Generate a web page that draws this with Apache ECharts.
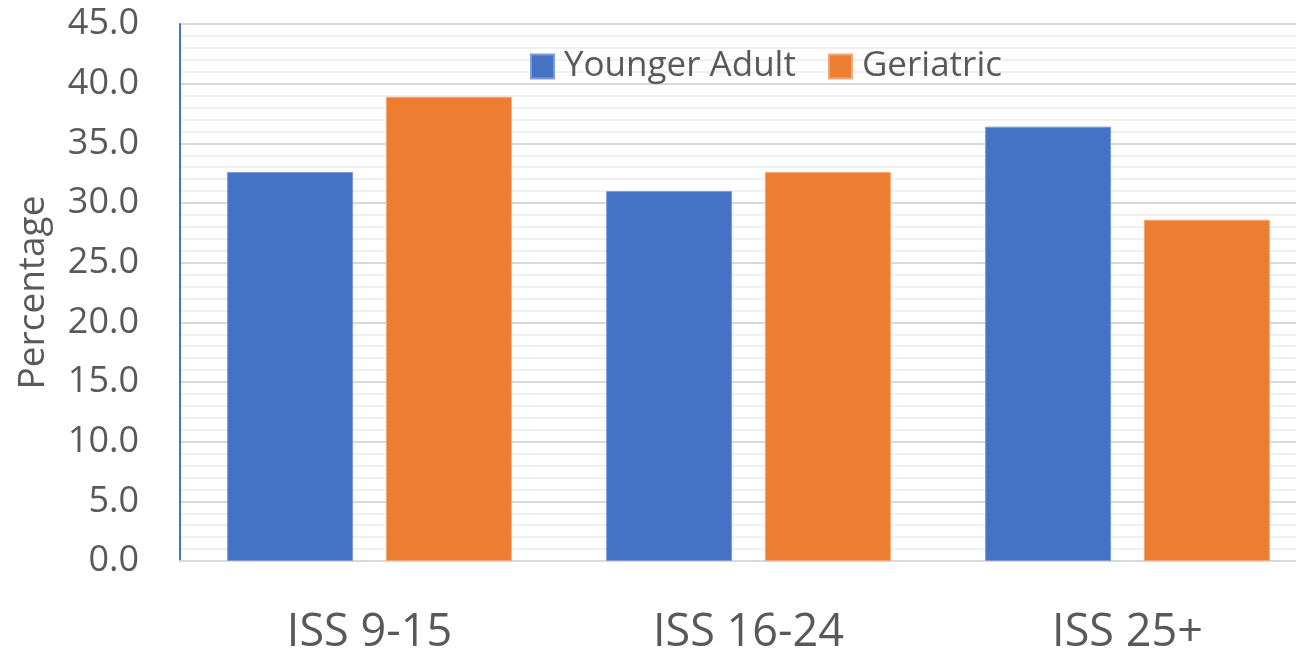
<!DOCTYPE html>
<html>
<head>
<meta charset="utf-8">
<script src="https://cdn.jsdelivr.net/npm/echarts@6/dist/echarts.min.js"></script>
<style>
  html, body { margin: 0; padding: 0; background: #fff; }
  #chart { width: 1296px; height: 651px; }
</style>
</head>
<body>
<div id="chart"></div>
<script>
const categories = ['ISS 9-15', 'ISS 16-24', 'ISS 25+'];
const youngerAdult = [32.6, 31.0, 36.4];
const geriatric = [38.9, 32.6, 28.6];

const chart = echarts.init(document.getElementById('chart'));
const font = '"Open Sans", sans-serif';

const option = {
	backgroundColor: '#fff',
	animation: false,
	textStyle: { fontFamily: font },
	grid: {
		left: 180,
		width: 1137,
		top: 24,
		bottom: 90,
		containLabel: false,
		outerBoundsMode: 'none'
	},
	legend: {
		left: 530,
		top: 49,
		padding: 0,
		itemWidth: 23,
		itemHeight: 24,
		itemGap: 32,
		icon: 'rect',
		textStyle: {
			fontFamily: font,
			fontSize: 35,
			color: '#595959',
			padding: [0, 0, 0, 5]
		},
		data: ['Younger Adult', 'Geriatric']
	},
	xAxis: {
		type: 'category',
		data: categories,
		axisLine: { lineStyle: { color: '#d9d9d9', width: 2 } },
		axisTick: { show: false },
		axisLabel: {
			fontFamily: font,
			fontSize: 45,
			color: '#595959',
			margin: 50
		}
	},
	yAxis: {
		type: 'value',
		min: 0,
		max: 45,
		interval: 5,
		name: 'Percentage',
		nameLocation: 'middle',
		nameGap: 128,
		nameRotate: 90,
		nameTextStyle: {
			fontFamily: font,
			fontSize: 37,
			color: '#595959'
		},
		axisLine: { show: true, lineStyle: { color: '#4472c4', width: 2 } },
		axisTick: { show: false },
		axisLabel: {
			fontFamily: font,
			fontSize: 36,
			color: '#595959',
			margin: 41,
			formatter: function (v) { return v.toFixed(1); }
		},
		splitLine: { lineStyle: { color: '#d9d9d9', width: 2 } },
		minorTick: { show: false, splitNumber: 5 },
		minorSplitLine: { show: true, lineStyle: { color: '#f0f0f0', width: 2 } }
	},
	series: [{
		name: 'Younger Adult',
		type: 'bar',
		data: youngerAdult,
		barWidth: 126,
		barGap: '26%',
		itemStyle: { color: '#4472c4', borderColor: '#7f9bd6', borderWidth: 1 }
	}, {
		name: 'Geriatric',
		type: 'bar',
		data: geriatric,
		barWidth: 126,
		barGap: '26%',
		itemStyle: { color: '#ed7d31', borderColor: '#f3a877', borderWidth: 1 }
	}]
};

chart.setOption(option);
</script>
</body>
</html>
